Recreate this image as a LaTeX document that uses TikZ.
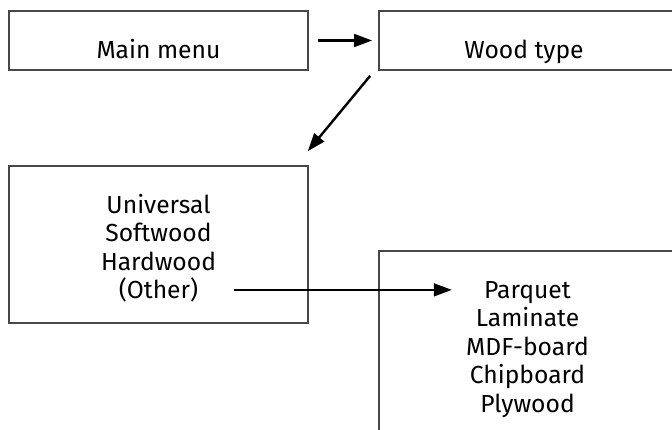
\documentclass[tikz,border=0pt]{standalone}
\usepackage{fontspec}
\setmainfont{Fira Sans}
\usetikzlibrary{arrows.meta,calc}
\tikzset{
  box/.style={draw=black!72,line width=1.2pt,minimum width=299*0.75pt,inner sep=0pt},
  lbl/.style={anchor=base,inner sep=0pt},
  arr/.style={-{Triangle[length=13.5pt,width=9.5pt]},line width=1.8pt}
}
\begin{document}
\begin{tikzpicture}[x=0.75pt,y=-0.75pt,font=\fontsize{18.5}{21.5}\selectfont]
      \useasboundingbox (0,0) rectangle (672,429);
      \clip (0,0) rectangle (672,429);
      % boxes
      \node[box,minimum height=59*0.75pt] (menu) at (158.5,40.5) {};
      \node[box,minimum height=59*0.75pt] (wood) at (528.5,40.5) {};
      \node[box,minimum height=157*0.75pt] (types) at (158.5,244.5) {};
      \node[box,minimum height=200*0.75pt] (prods) at (528.5,351) {};
      \node[lbl] (menutxt) at (158.5,58) {Main menu};
      \node[lbl] (woodtxt) at (524,58) {Wood type};
      \foreach \t [count=\i] in {Universal,Softwood,Hardwood,{(Other)}} {
        \node[lbl] (u\i) at (158.5,{184.5+28.5*\i}) {\t};
      }
      \foreach \t [count=\i] in {Parquet,Laminate,MDF-board,Chipboard,Plywood} {
        \node[lbl] (p\i) at (527.5,{269.5+28.5*\i}) {\t};
      }
      % arrows
      \draw[arr,shorten <=6.75pt,shorten >=4.5pt] (menu.east) -- (wood.west);
      \draw[arr] ($(wood.south west)+(-8,5)$) -- ($(types.north east)+(-1,-14)$);
      \draw[arr,shorten <=27pt,shorten >=24pt] (u4.east) -- (u4.east -| p1.west);
\end{tikzpicture}
\end{document}
